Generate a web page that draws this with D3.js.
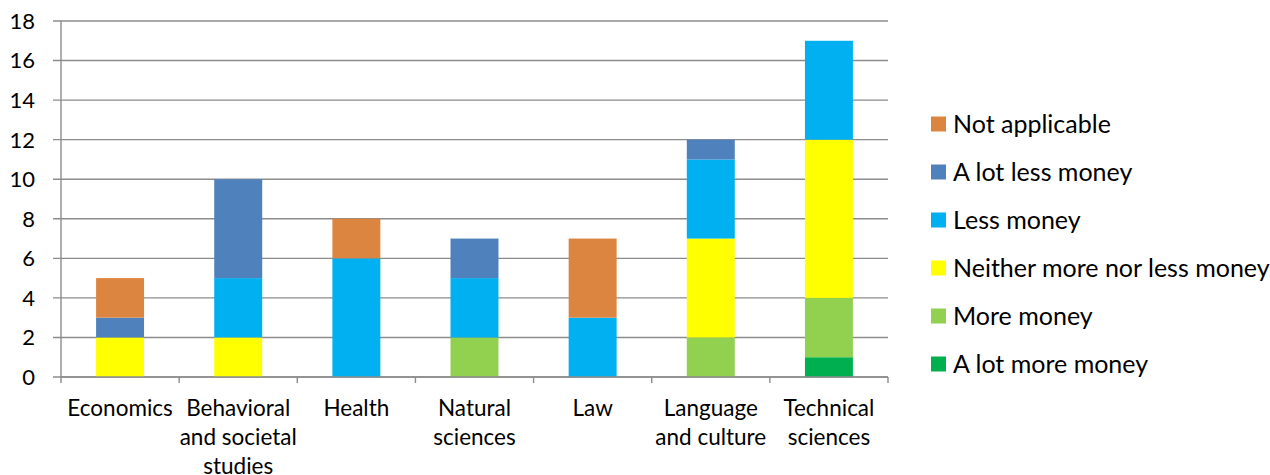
<!DOCTYPE html>
<html>
<head>
<meta charset="utf-8">
<script src="https://cdn.jsdelivr.net/npm/d3@7"></script>
<style>
  html, body { margin: 0; padding: 0; background: #fff; }
  svg text { font-family: Lato, "Open Sans", sans-serif; fill: #000; }
</style>
</head>
<body>
<svg id="chart" width="1270" height="475"></svg>
<script>
// Field categories (line breaks mark label wrapping)
const categories = [
  "Economics",
  "Behavioral\nand societal\nstudies",
  "Health",
  "Natural\nsciences",
  "Law",
  "Language\nand culture",
  "Technical\nsciences"
];

// Answer counts per category, stacked bottom to top
const aLotMoreMoney   = [0, 0, 0, 0, 0, 0, 1];
const moreMoney       = [0, 0, 0, 2, 0, 2, 3];
const neitherMoney    = [2, 2, 0, 0, 0, 5, 8];
const lessMoney       = [0, 3, 6, 3, 3, 4, 5];
const aLotLessMoney   = [1, 5, 0, 2, 0, 1, 0];
const notApplicable   = [2, 0, 2, 0, 4, 0, 0];

const seriesNames = [
  "A lot more money",
  "More money",
  "Neither more nor less money",
  "Less money",
  "A lot less money",
  "Not applicable"
];
const seriesValues = [aLotMoreMoney, moreMoney, neitherMoney, lessMoney, aLotLessMoney, notApplicable];
const seriesColors = ["#00B050", "#92D050", "#FFFF00", "#00B0F0", "#4F81BD", "#DC8540"];

const yTicks = [0, 2, 4, 6, 8, 10, 12, 14, 16, 18];

const svg = d3.select("#chart");
const plot = { left: 61, right: 888, top: 21, bottom: 377 };

const x = d3.scaleBand()
  .domain(d3.range(categories.length))
  .range([plot.left, plot.right])
  .paddingInner(0.594)
  .paddingOuter(0.297);

const xBand = d3.scaleBand()
  .domain(d3.range(categories.length))
  .range([plot.left, plot.right]);

const y = d3.scaleLinear().domain([0, 18]).range([plot.bottom, plot.top]);

// Horizontal gridlines with small left ticks
svg.append("g")
  .selectAll("line")
  .data(yTicks)
  .join("line")
  .attr("x1", plot.left - 8)
  .attr("x2", plot.right)
  .attr("y1", d => y(d))
  .attr("y2", d => y(d))
  .attr("stroke", "#8c8c8c")
  .attr("stroke-width", 1.4);

// Stacked data
const rows = categories.map((c, i) => {
  const r = { i };
  seriesNames.forEach((s, k) => { r[s] = seriesValues[k][i]; });
  return r;
});
const stack = d3.stack().keys(seriesNames)(rows);

svg.append("g")
  .selectAll("g")
  .data(stack)
  .join("g")
  .attr("fill", (d, k) => seriesColors[k])
  .selectAll("rect")
  .data(d => d.filter(p => p[1] > p[0]))
  .join("rect")
  .attr("x", d => x(d.data.i))
  .attr("width", x.bandwidth())
  .attr("y", d => y(d[1]))
  .attr("height", d => y(d[0]) - y(d[1]));

// Axis lines
svg.append("line")
  .attr("x1", plot.left).attr("x2", plot.left)
  .attr("y1", plot.top).attr("y2", plot.bottom)
  .attr("stroke", "#8c8c8c").attr("stroke-width", 1.4);
svg.append("line")
  .attr("x1", plot.left).attr("x2", plot.right)
  .attr("y1", plot.bottom).attr("y2", plot.bottom)
  .attr("stroke", "#8c8c8c").attr("stroke-width", 1.4);

// Category boundary ticks
const boundaries = d3.range(categories.length + 1).map(i =>
  i < categories.length ? xBand(i) : plot.right);
svg.append("g")
  .selectAll("line")
  .data(boundaries)
  .join("line")
  .attr("x1", d => d).attr("x2", d => d)
  .attr("y1", plot.bottom).attr("y2", plot.bottom + 6)
  .attr("stroke", "#8c8c8c").attr("stroke-width", 1.4);

// Y tick labels
svg.append("g")
  .selectAll("text")
  .data(yTicks)
  .join("text")
  .attr("x", 35)
  .attr("y", d => y(d))
  .attr("dy", "0.36em")
  .attr("text-anchor", "end")
  .attr("font-size", 22)
  .text(d => d);

// Category labels
const catLabels = svg.append("g")
  .selectAll("text")
  .data(categories)
  .join("text")
  .attr("text-anchor", "middle")
  .attr("font-size", 22.5)
  .attr("x", (d, i) => xBand(i) + xBand.bandwidth() / 2)
  .attr("y", 416);
catLabels.selectAll("tspan")
  .data(d => d.split("\n"))
  .join("tspan")
  .attr("x", function () { return d3.select(this.parentNode).attr("x"); })
  .attr("dy", (d, j) => j === 0 ? 0 : 29)
  .text(d => d);

// Legend, top entry is the top of the stack
const legendItems = seriesNames.map((n, k) => ({ name: n, color: seriesColors[k] })).reverse();
const legend = svg.append("g")
  .selectAll("g")
  .data(legendItems)
  .join("g")
  .attr("transform", (d, i) => `translate(931, ${124 + i * 48})`);
legend.append("rect")
  .attr("x", 0).attr("y", -7.5)
  .attr("width", 15).attr("height", 15)
  .attr("fill", d => d.color);
legend.append("text")
  .attr("x", 22)
  .attr("y", 0)
  .attr("dy", "0.34em")
  .attr("font-size", 25)
  .text(d => d.name);
</script>
</body>
</html>
